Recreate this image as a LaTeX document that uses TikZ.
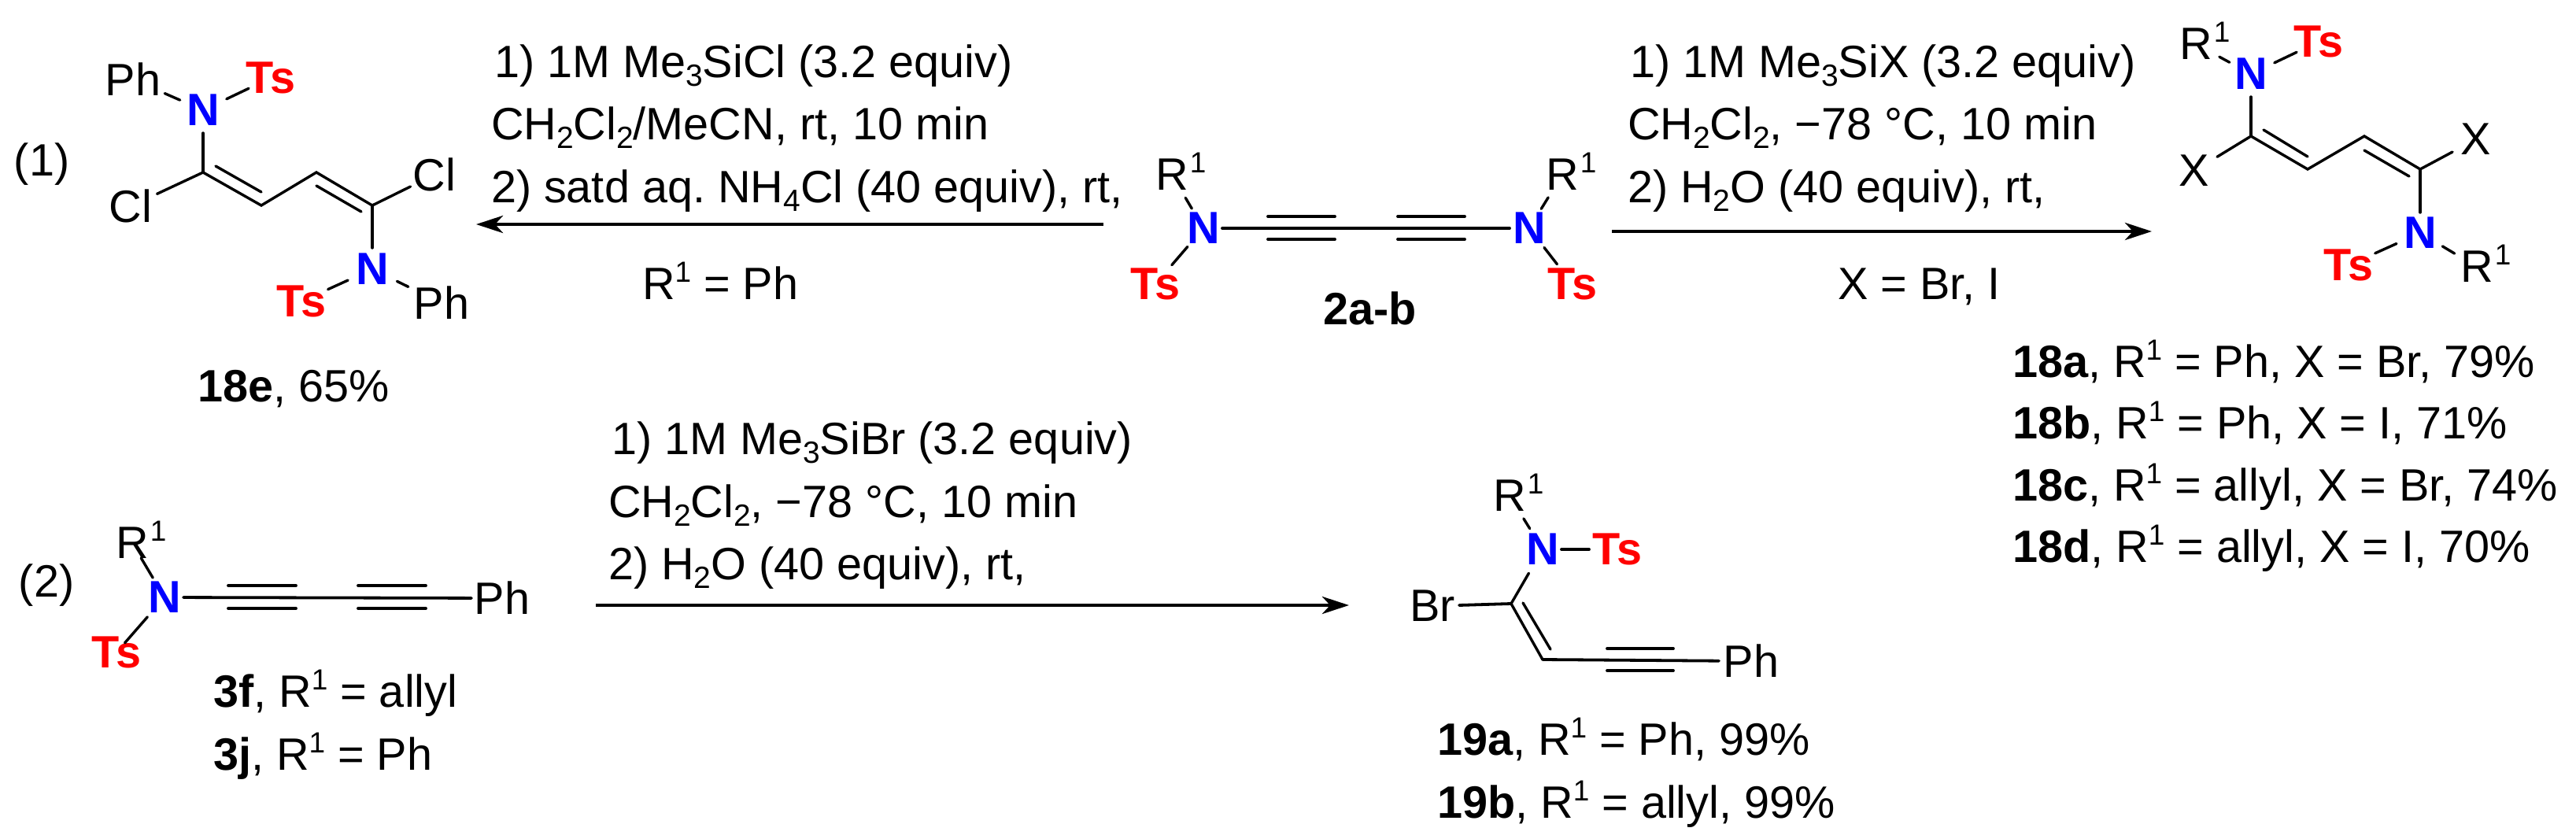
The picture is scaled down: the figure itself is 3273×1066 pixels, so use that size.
\documentclass[tikz,border=0pt]{standalone}
\usepackage{fontspec}
\setmainfont{Liberation Sans}
\usetikzlibrary{arrows.meta}
\frenchspacing
\newcommand\sbs[1]{\raisebox{-5.5pt}{\fontsize{19.5}{20}\selectfont #1}}
\newcommand\sps[1]{\raisebox{11pt}{\fontsize{18.5}{20}\selectfont #1}}
\newcommand\Rone{R\rlap{\smash{\hspace{1pt}\sps{1}}}}
\definecolor{nblue}{RGB}{0,0,255}
\definecolor{tsred}{RGB}{255,0,0}
\tikzset{
  every node/.style={font=\fontsize{28.8}{30}\selectfont,inner sep=0pt,outer sep=0pt},
  atom/.style={anchor=center},
  natom/.style={anchor=center,text=nblue,font=\fontsize{28.8}{30}\selectfont\bfseries},
  tsatom/.style={anchor=center,text=tsred,font=\fontsize{28.8}{30}\selectfont\bfseries},
  txt/.style={anchor=base west},
  bond/.style={line width=1.7pt,line cap=round,black},
  heavy/.style={line width=1.9pt,line cap=round,black},
  bd/.style 2 args={shorten <=#1*0.5pt,shorten >=#2*0.5pt},
  rxn/.style={line width=2.4pt,-{Stealth[length=17pt,width=11pt,inset=5pt]}},
}
\begin{document}
\begin{tikzpicture}[x=0.5pt,y=-0.5pt]
\useasboundingbox (0,0) rectangle (3273,1066);
\fill[white] (0,0) rectangle (3273,1066);

% ---------- labels (1), (2)
\node[txt] (eq1) at (18,223) {(1)};
\node[txt] (eq2) at (24,758) {(2)};

% ---------- 18e
\node[atom] (ph1) at (169,101) {Ph};
\node[tsatom] (ts1) at (344,99) {Ts};
\node[natom] (n1) at (258,140) {N};
\node[atom] (cl1) at (166,262) {Cl};
\node[atom] (cl2) at (552,222) {Cl};
\node[natom] (n2) at (473,342) {N};
\node[tsatom] (ts2) at (383,383) {Ts};
\node[atom] (ph2) at (561,385) {Ph};
\coordinate (a1) at (258,219);
\coordinate (a2) at (332,261);
\coordinate (a3) at (402,219);
\coordinate (a4) at (473,261);
\coordinate (a5) at (274,211);
\coordinate (a6) at (332,244);
\coordinate (a7) at (402,236);
\coordinate (a8) at (459,269);
\draw[bond,bd={32}{44}] (n1.center) -- (ph1.center);
\draw[bond,bd={33}{31}] (n1.center) -- (ts1.center);
\draw[bond,bd={29}{0}] (n1.center) -- (a1);
\draw[bond,bd={37}{0}] (cl1.center) -- (a1);
\draw[bond] (a1) -- (a2) -- (a3) -- (a4);
\draw[bond] (a5) -- (a6);
\draw[bond] (a7) -- (a8);
\draw[bond,bd={34}{0}] (cl2.center) -- (a4);
\draw[bond,bd={27}{0}] (n2.center) -- (a4);
\draw[bond,bd={34}{37}] (n2.center) -- (ts2.center);
\draw[bond,bd={35}{47}] (n2.center) -- (ph2.center);
\node[txt] (t18e) at (251,510) {\textbf{18e}, 65\%};

% ---------- arrow 1 and text
\coordinate (r1s) at (1402,285);
\coordinate (r1e) at (605,285);
\draw[rxn] (r1s) -- (r1e);
\node[txt] (l11) at (628,98) {1) 1M Me\sbs{3}SiCl (3.2 equiv)};
\node[txt] (l12) at (624,177) {CH\sbs{2}Cl\sbs{2}/MeCN, rt, 10 min};
\node[txt] (l13) at (624,257) {2) satd aq. NH\sbs{4}Cl (40 equiv), rt,};
\node[txt] (l14) at (816,380) {R\sps{1} = Ph};

% ---------- 2a-b
\node[atom] (r1) at (1489,222) {\Rone};
\node[natom] (n3) at (1529,290) {N};
\node[tsatom] (ts3) at (1468,361) {Ts};
\node[natom] (n4) at (1943,290) {N};
\node[atom] (r2) at (1985,222) {\Rone};
\node[tsatom] (ts4) at (1998,361) {Ts};
\coordinate (b1) at (1611,275);
\coordinate (b2) at (1696,275);
\coordinate (b3) at (1611,304);
\coordinate (b4) at (1696,304);
\coordinate (b5) at (1776,275);
\coordinate (b6) at (1861,275);
\coordinate (b7) at (1776,304);
\coordinate (b8) at (1861,304);
\draw[bond,bd={29}{34}] (n3.center) -- (r1.center);
\draw[bond,bd={31}{32}] (n3.center) -- (ts3.center);
\draw[bond,bd={29}{34}] (n4.center) -- (r2.center);
\draw[bond,bd={31}{32}] (n4.center) -- (ts4.center);
\draw[heavy,bd={24}{25}] (n3.center) -- (n4.center);
\draw[heavy] (b1) -- (b2);
\draw[heavy] (b3) -- (b4);
\draw[heavy] (b5) -- (b6);
\draw[heavy] (b7) -- (b8);
\node[txt] (t2ab) at (1681,412) {\textbf{2a-b}};

% ---------- arrow 2 and text
\coordinate (r2s) at (2048,294);
\coordinate (r2e) at (2734,294);
\draw[rxn] (r2s) -- (r2e);
\node[txt] (l21) at (2071,98) {1) 1M Me\sbs{3}SiX (3.2 equiv)};
\node[txt] (l22) at (2068,177) {CH\sbs{2}Cl\sbs{2}, −78 °C, 10 min};
\node[txt] (l23) at (2068,257) {2) H\sbs{2}O (40 equiv), rt,};
\node[txt] (l24) at (2335,380) {X = Br, I};

% ---------- 18a-d
\node[atom] (r3) at (2790,56) {\Rone};
\node[natom] (n5) at (2860,94) {N};
\node[tsatom] (ts5) at (2946,53) {Ts};
\node[atom] (x1) at (2788,217) {X};
\node[atom] (x2) at (3146,177) {X};
\node[natom] (n6) at (3075,296) {N};
\node[tsatom] (ts6) at (2984,337) {Ts};
\node[atom] (r4) at (3147,339) {\Rone};
\coordinate (c1) at (2860,173);
\coordinate (c2) at (2932,215);
\coordinate (c3) at (3004,173);
\coordinate (c4) at (3075,215);
\coordinate (c5) at (2876,165);
\coordinate (c6) at (2932,199);
\coordinate (c7) at (3004,191);
\coordinate (c8) at (3061,224);
\draw[bond,bd={31}{34}] (n5.center) -- (r3.center);
\draw[bond,bd={33}{31}] (n5.center) -- (ts5.center);
\draw[bond,bd={29}{0}] (n5.center) -- (c1);
\draw[bond,bd={34}{0}] (x1.center) -- (c1);
\draw[bond] (c1) -- (c2) -- (c3) -- (c4);
\draw[bond] (c5) -- (c6);
\draw[bond] (c7) -- (c8);
\draw[bond,bd={34}{0}] (x2.center) -- (c4);
\draw[bond,bd={26}{0}] (n6.center) -- (c4);
\draw[bond,bd={33}{37}] (n6.center) -- (ts6.center);
\draw[bond,bd={33}{33}] (n6.center) -- (r4.center);
\node[txt] (t18a) at (2557,479) {\textbf{18a}, R\sps{1} = Ph, X = Br, 79\%};
\node[txt] (t18b) at (2557,557) {\textbf{18b}, R\sps{1} = Ph, X = I, 71\%};
\node[txt] (t18c) at (2557,636) {\textbf{18c}, R\sps{1} = allyl, X = Br, 74\%};
\node[txt] (t18d) at (2557,714) {\textbf{18d}, R\sps{1} = allyl, X = I, 70\%};

% ---------- 3f/3j
\node[atom] (r5) at (168,690) {\Rone};
\node[natom] (n7) at (209,759) {N};
\node[tsatom] (ts7) at (148,829) {Ts};
\node[atom] (ph3) at (638,760) {Ph};
\coordinate (e1) at (290,744);
\coordinate (e2) at (376,744);
\coordinate (e3) at (290,773);
\coordinate (e4) at (376,773);
\coordinate (e5) at (455,744);
\coordinate (e6) at (541,744);
\coordinate (e7) at (455,773);
\coordinate (e8) at (541,773);
\draw[bond,bd={29}{22}] (n7.center) -- (r5.center);
\draw[bond,bd={33}{16}] (n7.center) -- (ts7.center);
\draw[heavy,bd={24}{39}] (n7.center) -- (ph3.center);
\draw[heavy] (e1) -- (e2);
\draw[heavy] (e3) -- (e4);
\draw[heavy] (e5) -- (e6);
\draw[heavy] (e7) -- (e8);
\node[txt] (t3f) at (271,898) {\textbf{3f}, R\sps{1} = allyl};
\node[txt] (t3j) at (271,978) {\textbf{3j}, R\sps{1} = Ph};

% ---------- arrow 3 and text
\coordinate (r3s) at (757,769);
\coordinate (r3e) at (1714,769);
\draw[rxn] (r3s) -- (r3e);
\node[txt] (l31) at (777,577) {1) 1M Me\sbs{3}SiBr (3.2 equiv)};
\node[txt] (l32) at (773,657) {CH\sbs{2}Cl\sbs{2}, −78 °C, 10 min};
\node[txt] (l33) at (773,736) {2) H\sbs{2}O (40 equiv), rt,};

% ---------- 19a/b
\node[atom] (r6) at (1918,630) {\Rone};
\node[natom] (n8) at (1960,698) {N};
\node[tsatom] (ts8) at (2055,698) {Ts};
\node[atom] (br1) at (1820,770) {Br};
\node[atom] (ph4) at (2225,840) {Ph};
\coordinate (f1) at (1920,767);
\coordinate (f2) at (1960,838);
\coordinate (f3) at (1935,766);
\coordinate (f4) at (1970,825);
\coordinate (f5) at (2042,824);
\coordinate (f6) at (2126,824);
\coordinate (f7) at (2042,852);
\coordinate (f8) at (2126,852);
\draw[bond,bd={31}{34}] (n8.center) -- (r6.center);
\draw[heavy,bd={24}{36}] (n8.center) -- (ts8.center);
\draw[bond,bd={35}{0}] (n8.center) -- (f1);
\draw[heavy,bd={34}{0}] (br1.center) -- (f1);
\draw[bond] (f1) -- (f2);
\draw[bond] (f3) -- (f4);
\draw[heavy,bd={41}{0}] (ph4.center) -- (f2);
\draw[heavy] (f5) -- (f6);
\draw[heavy] (f7) -- (f8);
\node[txt] (t19a) at (1826,959) {\textbf{19a}, R\sps{1} = Ph, 99\%};
\node[txt] (t19b) at (1826,1039) {\textbf{19b}, R\sps{1} = allyl, 99\%};
\end{tikzpicture}
\end{document}
